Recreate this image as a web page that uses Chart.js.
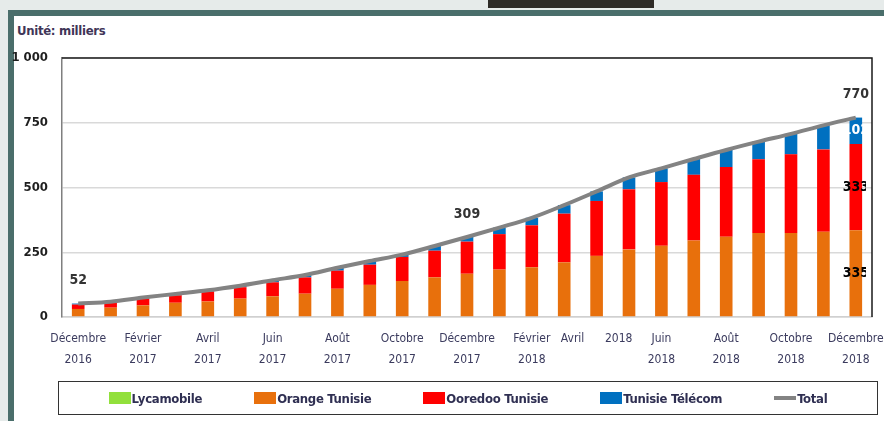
<!DOCTYPE html>
<html>
<head>
<meta charset="utf-8">
<script src="https://cdn.jsdelivr.net/npm/chart.js@4"></script>
<style>
  html, body { margin: 0; padding: 0; }
  body { width: 884px; height: 421px; background: #e6ebea; position: relative; overflow: hidden;
         font-family: "DejaVu Sans Condensed", "DejaVu Sans", sans-serif; }
  #topbox { position: absolute; left: 488px; top: 0; width: 166px; height: 8px; background: #2e2b27; }
  #panel { position: absolute; left: 8px; top: 10px; width: 900px; height: 420px; background: #fff;
           border-left: 6px solid #4a6e6b; border-top: 6px solid #4a6e6b; }
  #unit { position: absolute; left: 17px; top: 23px; font-size: 13px; font-weight: bold; color: #3f3658;
          letter-spacing: -0.3px; }
  #wrap { position: absolute; left: 0; top: 0; width: 884px; height: 421px; }
  #legend { position: absolute; left: 58px; top: 381px; width: 818px; height: 32px; border: 1.5px solid #333;
            display: flex; align-items: center; justify-content: center; gap: 52px;
            font-size: 13px; font-weight: bold; color: #2f2f52; letter-spacing: -0.3px; }
  .item { display: flex; align-items: center; }
  .sw { width: 22px; height: 12px; margin-right: 1px; }
  .ln { width: 22px; height: 4px; margin-right: 1px; }
</style>
</head>
<body>
<div id="topbox"></div>
<div id="panel"></div>
<div id="unit">Unité: milliers</div>
<div id="wrap"><canvas id="chart"></canvas></div>
<div id="legend"></div>
<script>
// décembre 2016 -> décembre 2018, en milliers
const months = ['Déc 2016','Jan 2017','Fév 2017','Mar 2017','Avr 2017','Mai 2017','Juin 2017','Juil 2017','Août 2017',
  'Sep 2017','Oct 2017','Nov 2017','Déc 2017','Jan 2018','Fév 2018','Mar 2018','Avr 2018','Mai 2018','Juin 2018',
  'Juil 2018','Août 2018','Sep 2018','Oct 2018','Nov 2018','Déc 2018'];
const tickLabels = [['Décembre','2016'],['Février','2017'],['Avril','2017'],['Juin','2017'],['Août','2017'],
  ['Octobre','2017'],['Décembre','2017'],['Février','2018'],['Avril      2018'],['Juin','2018'],['Août','2018'],
  ['Octobre','2018'],['Décembre','2018']];
const lycamobile = [0,0,0,0,0,0,0,0,0,0,0,0,0,0,0,0,0,0,0,0,0,0,0,0,0];
const orange = [31,36,45,55,60,71,80,90,109,124,139,153,167,183,192,211,236,261,275,295,310,324,324,329,335];
const ooredoo = [17,19,26,29,39,44,54,63,70,78,93,103,124,137,162,188,212,232,246,254,269,285,304,318,333];
const telecom = [4,4,4,5,4,6,8,9,11,14,9,18,18,25,29,33,37,46,53,61,66,68,79,93,102];
const total = months.map((m, i) => lycamobile[i] + orange[i] + ooredoo[i] + telecom[i]);
const totalLabelIdx = [0, 12, 24];
const yTicks = [0, 250, 500, 750, 1000];

const FONT = '"DejaVu Sans Condensed", "DejaVu Sans", sans-serif';

const series = [
  { label: 'Lycamobile', data: lycamobile, color: '#92e03c' },
  { label: 'Orange Tunisie', data: orange, color: '#e8700c' },
  { label: 'Ooredoo Tunisie', data: ooredoo, color: '#ff0000' },
  { label: 'Tunisie Télécom', data: telecom, color: '#0070c0' }
];

const labelPlugin = {
  id: 'labels',
  afterDatasetsDraw(chart) {
    const ctx = chart.ctx, area = chart.chartArea;
    ctx.save();
    ctx.strokeStyle = '#1a1a1a';
    ctx.lineWidth = 1.5;
    ctx.beginPath();
    ctx.moveTo(area.left, area.top);
    ctx.lineTo(area.right, area.top);
    ctx.lineTo(area.right, area.bottom);
    ctx.stroke();

    ctx.font = 'bold 14px ' + FONT;
    ctx.textAlign = 'center';
    ctx.textBaseline = 'middle';
    ctx.fillStyle = '#333';
    const lineMeta = chart.getDatasetMeta(4);
    totalLabelIdx.forEach(i => {
      const p = lineMeta.data[i];
      ctx.fillText(total[i], p.x, p.y - 23);
    });

    // valeurs du dernier mois, au milieu de chaque segment
    const last = months.length - 1;
    ctx.beginPath();
    ctx.rect(area.left, area.top, area.right - area.left - 6, area.bottom - area.top);
    ctx.clip();
    [[1, '#000'], [2, '#000'], [3, '#fff']].forEach(([d, col]) => {
      const bar = chart.getDatasetMeta(d).data[last];
      ctx.fillStyle = col;
      ctx.fillText(chart.data.datasets[d].data[last], bar.x, (bar.y + bar.base) / 2);
    });
    ctx.restore();
  }
};

const datasets = series.map(s => ({
  type: 'bar', label: s.label, data: s.data, backgroundColor: s.color,
  stack: 'op', order: 1, barPercentage: 0.39, categoryPercentage: 1
}));
datasets.push({
  type: 'line', label: 'Total', data: total, borderColor: '#838383', borderWidth: 4,
  pointRadius: 0, cubicInterpolationMode: 'monotone', order: 0, fill: false
});

new Chart(document.getElementById('chart'), {
  data: { labels: months, datasets: datasets },
  options: {
    responsive: true,
    maintainAspectRatio: false,
    animation: false,
    layout: { padding: { top: 58, right: 12, left: 0, bottom: 44 } },
    plugins: { legend: { display: false }, tooltip: { enabled: false } },
    scales: {
      x: {
        stacked: true,
        afterFit: s => { s.height = 60; s.paddingLeft = 0; s.paddingRight = 0; },
        grid: { display: false, drawTicks: false },
        border: { display: true, color: '#d0d0d0', width: 1.5 },
        ticks: {
          autoSkip: false, maxRotation: 0, padding: 12, color: '#3b3b5e',
          font: { family: FONT, size: 12, lineHeight: 1.7 },
          callback: (v, i) => i % 2 === 0 ? tickLabels[i / 2] : ''
        }
      },
      y: {
        stacked: true, min: 0, max: 1000,
        afterFit: s => { s.width = 62; s.paddingTop = 0; s.paddingBottom = 0; },
        afterBuildTicks: s => { s.ticks = yTicks.map(v => ({ value: v })); },
        grid: { color: '#d9d9d9', lineWidth: 1.5, drawTicks: false },
        border: { display: true, color: '#7f7f7f', width: 1.5 },
        ticks: {
          padding: 14, color: '#1e1e1e',
          font: { family: FONT, size: 13, weight: 'bold' },
          callback: v => v === 1000 ? '1 000' : v
        }
      }
    }
  },
  plugins: [labelPlugin]
});

const legend = document.getElementById('legend');
series.concat([{ label: 'Total', color: '#838383', line: true }]).forEach(s => {
  const item = document.createElement('div');
  item.className = 'item';
  const sw = document.createElement('span');
  sw.className = s.line ? 'ln' : 'sw';
  sw.style.background = s.color;
  item.appendChild(sw);
  item.appendChild(document.createTextNode(s.label));
  legend.appendChild(item);
});
</script>
</body>
</html>
